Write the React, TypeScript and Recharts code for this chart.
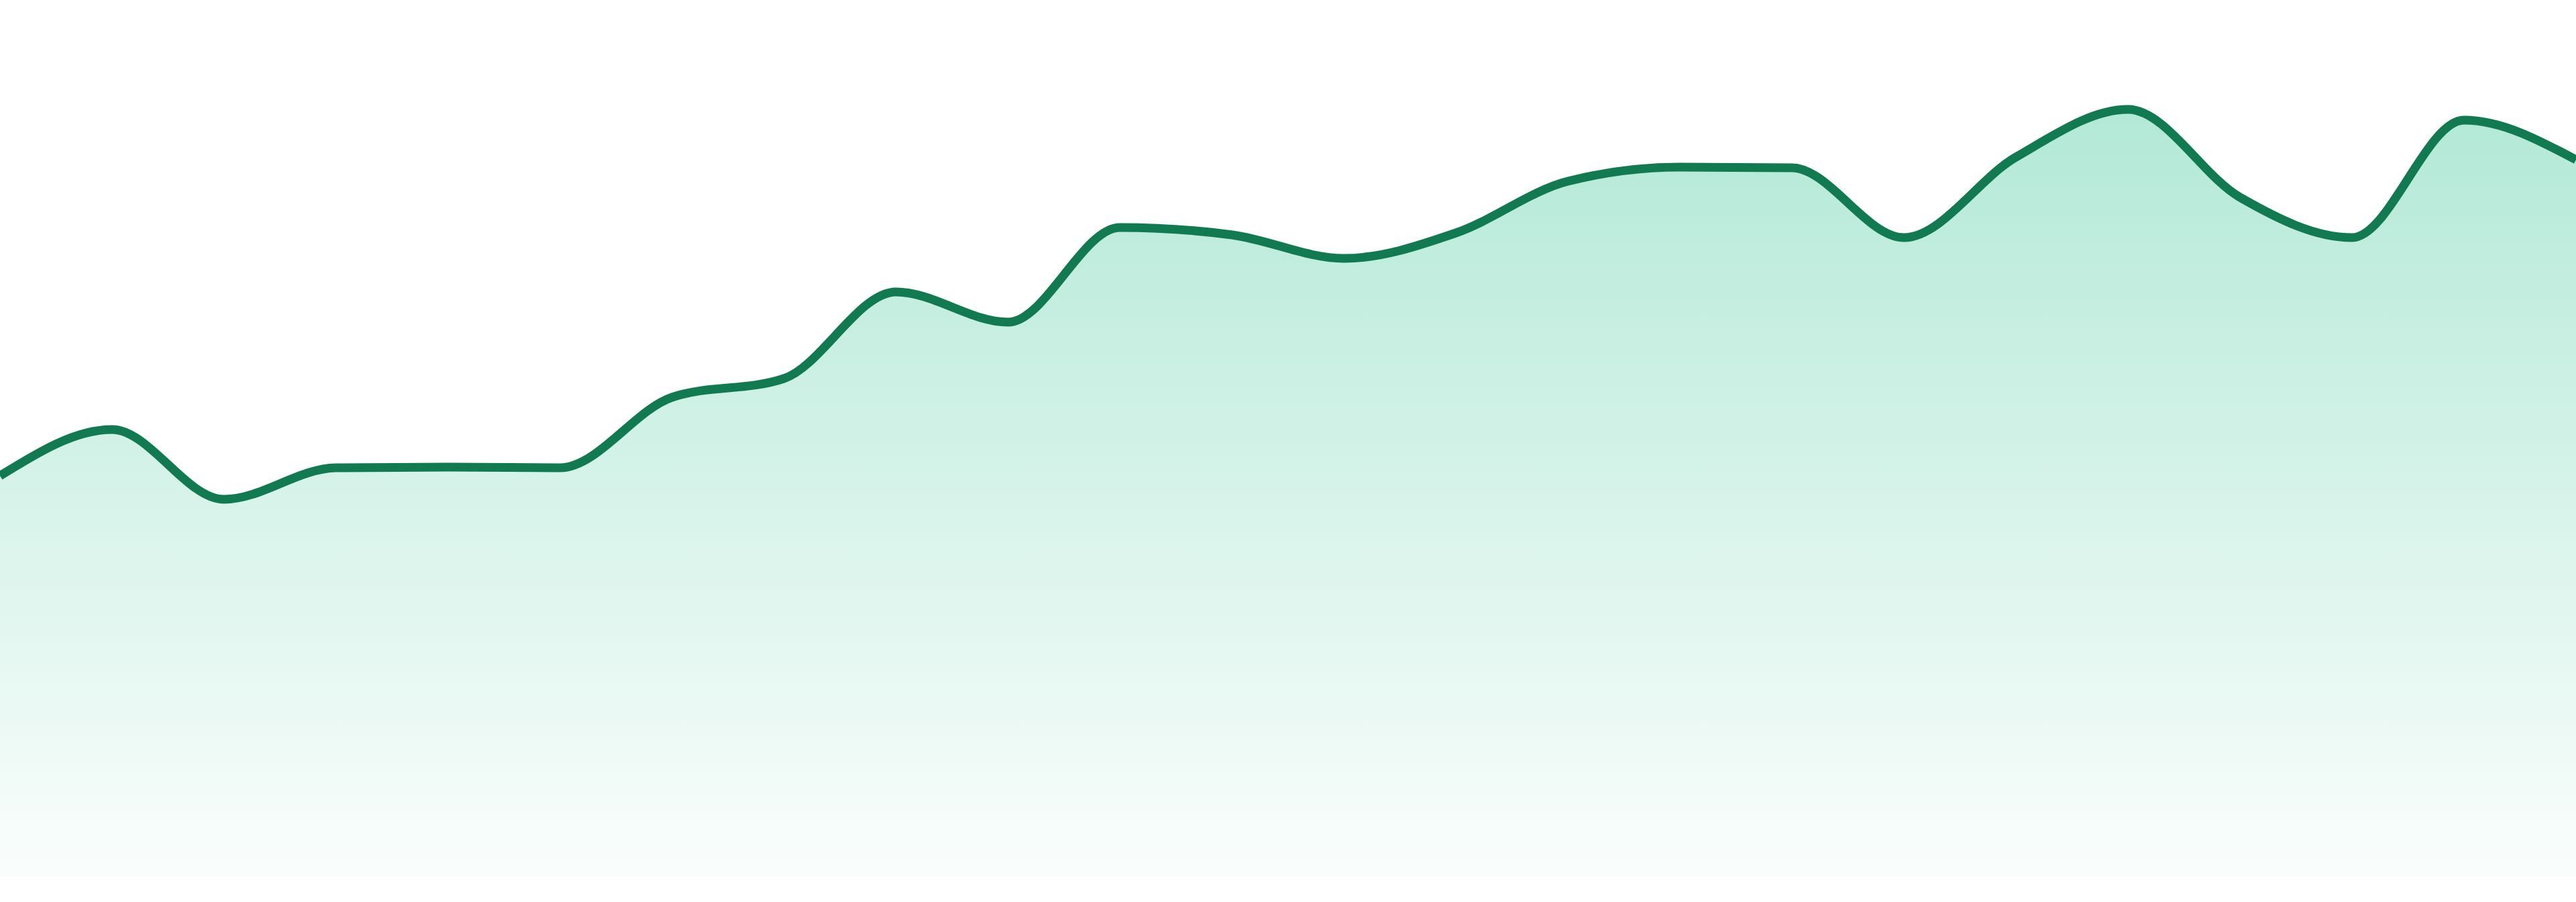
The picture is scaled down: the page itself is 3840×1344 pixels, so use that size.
import { AreaChart, Area, XAxis, YAxis } from 'recharts'

const categories = [
  'D1', 'D2', 'D3', 'D4', 'D5', 'D6', 'D7', 'D8', 'D9', 'D10', 'D11', 'D12',
  'D13', 'D14', 'D15', 'D16', 'D17', 'D18', 'D19', 'D20', 'D21', 'D22', 'D23', 'D24',
]

const values = [
  59.6, 66.5, 56.1, 60.8, 60.9, 60.8, 71.3, 74.1, 87.0, 82.5, 96.6, 95.5,
  92.0, 95.8, 103.5, 105.6, 105.5, 95.1, 107.1, 114.2, 101.1, 95.1, 112.6, 106.7,
]

const yDomain = [0, 130.5]

const LINE = '#127a50'
const FILL = '#10b981'

export default function App() {
  const data = categories.map((name, i) => ({ name, value: values[i] }))

  return (
    <div style={{ position: 'absolute', left: 0, top: 0 }}>
      <AreaChart
        width={3840}
        height={1344}
        data={data}
        margin={{ top: 0, right: 0, bottom: 39, left: 0 }}
      >
        <defs>
          <linearGradient id="areaFill" x1="0" y1="0" x2="0" y2="1">
            <stop offset="0%" stopColor={FILL} stopOpacity={0.32} />
            <stop offset="100%" stopColor={FILL} stopOpacity={0.02} />
          </linearGradient>
        </defs>
        <XAxis dataKey="name" hide />
        <YAxis hide domain={yDomain} />
        <Area
          type="monotone"
          dataKey="value"
          stroke={LINE}
          strokeWidth={13}
          fill="url(#areaFill)"
          fillOpacity={1}
          dot={false}
          activeDot={false}
          isAnimationActive={false}
        />
      </AreaChart>
    </div>
  )
}
